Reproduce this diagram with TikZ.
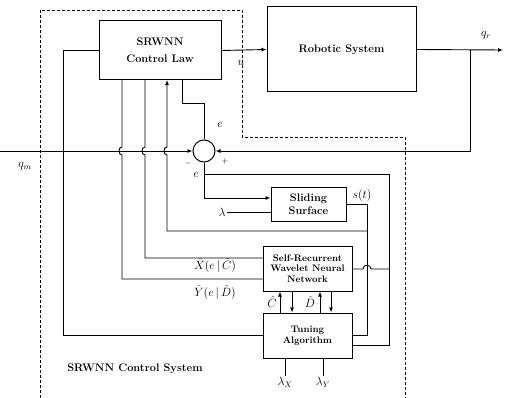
\documentclass[tikz,border=0pt]{standalone}
\usetikzlibrary{arrows.meta}

\begin{document}
\begin{tikzpicture}[
  x=1pt, y=-1pt,
  font=\bfseries\fontsize{11}{13}\selectfont,
  box/.style={rectangle, draw, line width=1pt, align=center, inner sep=1pt},
  sumnode/.style={circle, draw, line width=1pt, minimum size=22pt, inner sep=0pt},
  wire/.style={line width=0.9pt},
  arr/.style={wire, -{Latex[length=5pt, width=4pt]}},
  lbl/.style={font=\large, inner sep=1pt},
  bound/.style={densely dashed, line width=0.7pt}
]
\useasboundingbox (0,0) rectangle (505,398);

% blocks
\node[box, minimum width=122, minimum height=59] (law) at (160,50.5) {SRWNN\\[4pt]Control Law};
\node[box, minimum width=149, minimum height=85] (robot) at (341.5,49.5) {Robotic System};
\node[sumnode] (sum) at (204,151) {};
\node[box, minimum width=75, minimum height=34] (slide) at (308.5,204) {Sliding\\Surface};
\node[box, minimum width=89, minimum height=45, font=\bfseries\fontsize{9.5}{10.5}\selectfont] (nn) at (307.5,268.5) {Self-Recurrent\\Wavelet Neural\\Network};
\node[box, minimum width=89, minimum height=45, font=\bfseries\fontsize{9.5}{10.5}\selectfont] (tune) at (307.5,335.5) {Tuning\\Algorithm};

% free ends and labels
\coordinate (qm) at (0,151);
\coordinate (qr) at (503,50);
\node[lbl] (lqm) at (25,166) {$q_m$};
\node[lbl] (lqr) at (486,35) {$q_r$};
\node[lbl] (lu) at (241,63) {$u$};
\node[lbl] (le1) at (220,125) {$e$};
\node[lbl] (le2) at (196,175) {$e$};
\node[lbl] (lminus) at (188,163) {$\scriptstyle -$};
\node[lbl] (lplus) at (225,162) {$\scriptstyle +$};
\node[lbl] (ls) at (362,195) {$s(t)$};
\node[lbl] (llam) at (222,212) {$\lambda$};
\node[lbl] (lx) at (215,265) {$\hat{X}(e\,|\,\hat{C})$};
\node[lbl] (ly) at (215,292) {$\hat{Y}(e\,|\,\hat{D})$};
\node[lbl] (lc) at (272,302) {$\hat{C}$};
\node[lbl] (ld) at (310,302) {$\hat{D}$};
\node[lbl] (llx) at (285,382) {$\lambda_X$};
\node[lbl] (lly) at (323,382) {$\lambda_Y$};
\node (title) at (135,369) {SRWNN Control System};

% boundary of the control system
\draw[bound] (40,398) -- (40,10) -- (242,10) -- (242,137) -- (405,137) -- (405,398);

% forward path
\draw[arr] (law.east) -- (robot.west);
\draw[arr] (robot.east) -- (qr);
\draw[arr] (470,50) -- (470,151) -- (sum.east);
\draw[arr] (qm) -- (sum.west);
\draw[wire] (sum.north) -- (204,103) -- (182,103) -- (182,80);

% error to sliding surface and tuning
\draw[arr] (sum.south) -- (204,198) -- (slide.west |- 0,198);
\draw[wire] (204,174) -- (389,174) -- (389,345) -- (tune.east |- 0,345);
\draw[wire] (llam) -- (slide.west |- llam);
\draw[wire] (slide.east) -- (367,204) -- (367,335) -- (tune.east |- 0,335);
\draw[arr] (367,231) -- (167,231) -- (167,155) .. controls (163,155) and (163,147) .. (167,147) -- (167,80);
\draw[wire] (nn.east |- 0,269) -- (363,269) .. controls (363,264) and (371,264) .. (371,269) -- (389,269);

% signals back to the control law
\draw[wire] (145,80) -- (145,147) .. controls (141,147) and (141,155) .. (145,155) -- (145,258) -- (nn.west |- 0,258);
\draw[wire] (122,80) -- (122,147) .. controls (118,147) and (118,155) .. (122,155) -- (122,279) -- (nn.west |- 0,279);
\draw[wire] (law.west) -- (63,50.5) -- (63,335) -- (tune.west |- 0,335);

% parameter exchange
\draw[arr] (tune.north -| 280,0) -- (nn.south -| 280,0);
\draw[arr] (nn.south -| 292,0) -- (tune.north -| 292,0);
\draw[arr] (tune.north -| 320,0) -- (nn.south -| 320,0);
\draw[arr] (nn.south -| 331,0) -- (tune.north -| 331,0);
\draw[wire] (llx) -- (tune.south -| llx);
\draw[wire] (lly) -- (tune.south -| lly);

\end{tikzpicture}
\end{document}
